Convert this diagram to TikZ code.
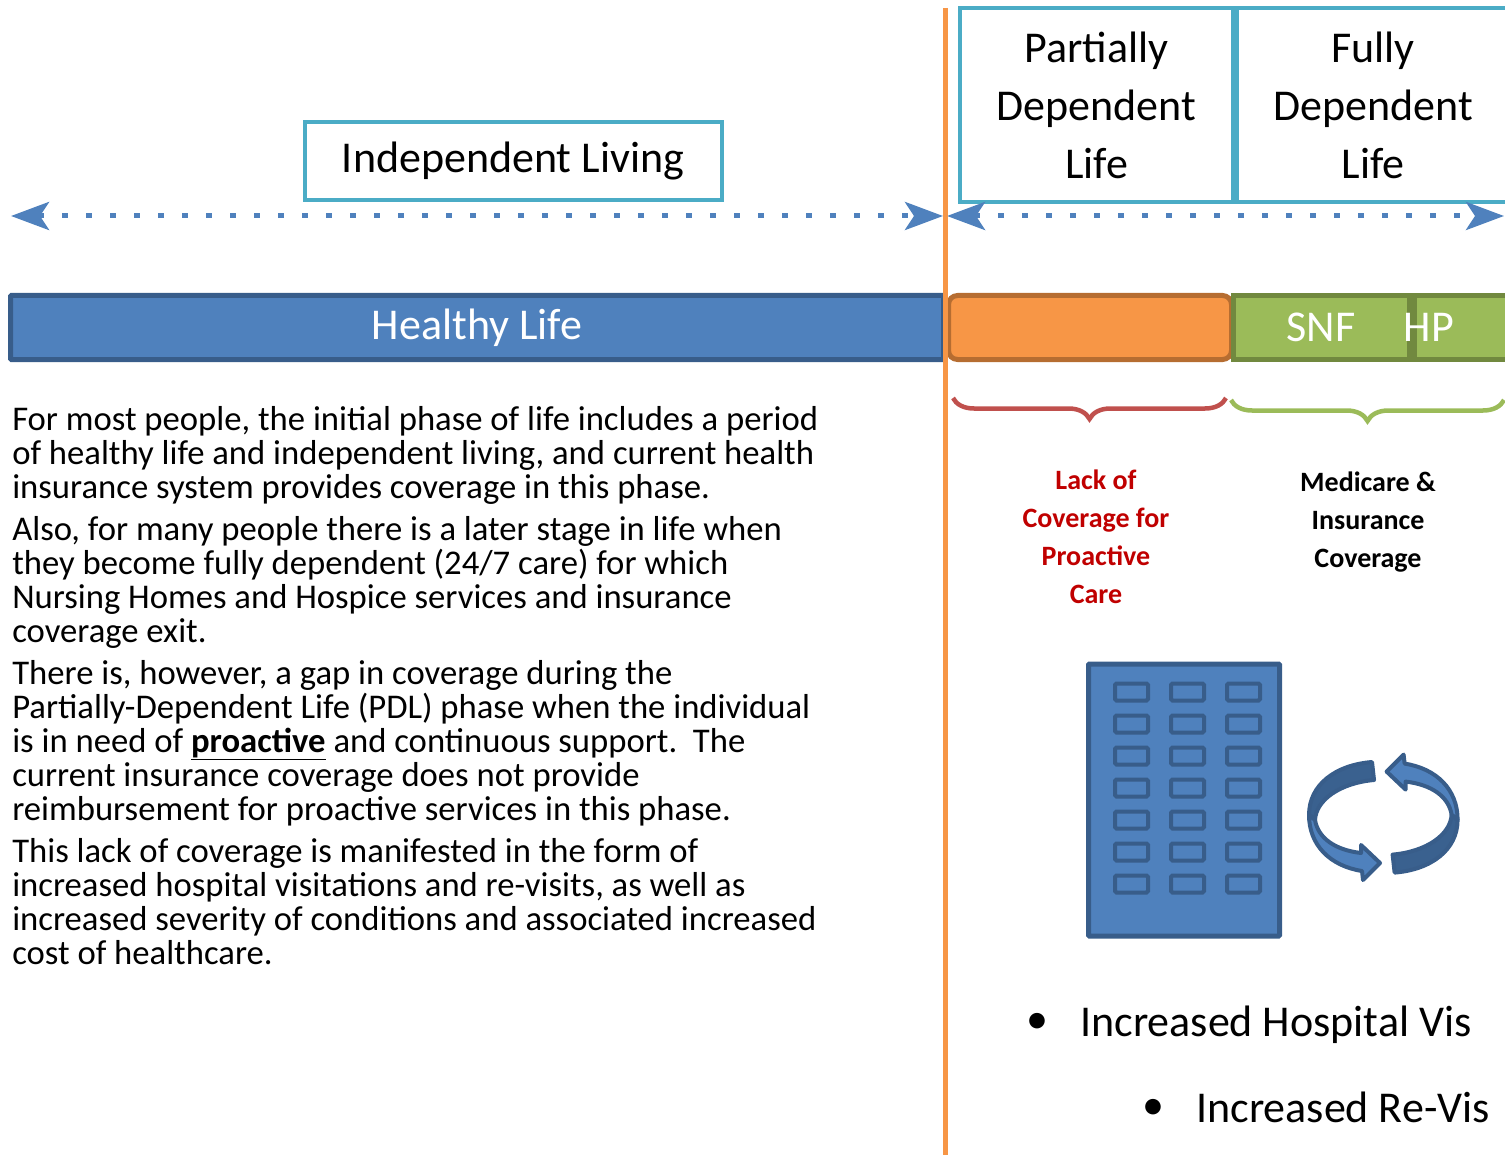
\documentclass[tikz,border=0pt]{standalone}
\usepackage{fontspec}
\setmainfont{Carlito}
\usetikzlibrary{positioning}
\usetikzlibrary{arrows.meta}
\usetikzlibrary{decorations.pathreplacing}
\def\px{0.75pt}
\definecolor{barblue}{HTML}{4F81BD}
\definecolor{darkblue}{HTML}{385D8A}
\definecolor{barorange}{HTML}{F79646}
\definecolor{darkorange}{HTML}{B66D31}
\definecolor{bargreen}{HTML}{9BBB59}
\definecolor{darkgreen}{HTML}{71893F}
\definecolor{boxteal}{HTML}{4BACC6}
\definecolor{bracered}{HTML}{C0504D}
\definecolor{labelred}{HTML}{C00000}
\tikzset{
	% boxes along the top
	stagebox/.style={draw=boxteal,line width=4*\px,inner sep=0pt,align=center,font=\fontsize{33}{43.5}\selectfont},
	% the bar
	barpart/.style={line width=5*\px,inner sep=0pt,minimum height=64*\px,text=white,font=\fontsize{33}{40}\selectfont},
	% dotted span
	spanline/.style={barblue,line width=5*\px,dash pattern=on 6*\px off 18*\px,{Stealth[length=38*\px,width=28*\px,inset=9*\px,sep=0pt]}-{Stealth[length=38*\px,width=28*\px,inset=9*\px,sep=0pt]}},
	% curly brackets
	bracket/.style={line width=4.5*\px,decorate,decoration={brace,mirror,amplitude=21*\px}},
	% texts
	bodytext/.style={inner sep=0pt,anchor=north west,align=left,font=\fontsize{26}{25.5}\selectfont},
	coverlabel/.style={inner sep=0pt,align=center,font=\fontsize{21}{28.5}\selectfont\bfseries},
	resulttext/.style={inner sep=0pt,anchor=base west,font=\fontsize{33}{40}\selectfont},
	% building
	windowbox/.style={draw=darkblue,line width=4*\px,rounded corners=1.5*\px,inner sep=0pt,minimum width=33*\px,minimum height=17*\px},
}
\begin{document}
\begin{tikzpicture}[x=\px,y=-\px]
\useasboundingbox (0,0) rectangle (1505,1155);
\clip (0,0) rectangle (1505,1155);
% stage boxes
\node[stagebox,minimum width=417*\px,minimum height=78*\px] (independent) at (513,161.5) {Independent Living};
\node[stagebox,minimum width=273*\px,minimum height=194*\px] (partial) at (1096.5,105) {Partially\\Dependent\\Life};
\node[stagebox,minimum width=272*\px,minimum height=194*\px,right=0pt of partial] (full) {Fully\\Dependent\\Life};
% the two dotted spans
\coordinate (spanA left) at (11,216);
\coordinate (spanA right) at (943,216);
\coordinate (spanB left) at (947,216);
\coordinate (spanB right) at (1504,216);
\draw[spanline] (spanA left) -- (spanA right);
\draw[spanline] (spanB left) -- (spanB right);
% the bar
\node[barpart,draw=darkblue,fill=barblue,rounded corners=1*\px,minimum width=933*\px] (healthy) at (477,327.5) {Healthy Life};
\node[barpart,draw=darkorange,fill=barorange,rounded corners=9*\px,minimum width=283*\px] (gap) at (1090,327.5) {};
\node[barpart,draw=darkgreen,fill=bargreen,minimum width=176*\px] (snf) at (1321,327.5) {SNF};
\node[barpart,draw=darkgreen,fill=bargreen,minimum width=96*\px,right=0pt of snf] (hp) {\hspace*{-1.5em}HP};
% divider
\coordinate (divider top) at (945,8);
\coordinate (divider end) at (945,1155);
\draw[barorange,line width=5*\px] (divider top) -- (divider end);
% brackets
\coordinate (red a) at (953,398);
\coordinate (red b) at (1226,398);
\coordinate (green a) at (1231,400);
\coordinate (green b) at (1504,400);
\draw[bracered,bracket] (red a) -- (red b);
\draw[bargreen,bracket] (green a) -- (green b);
\node[coverlabel,text=labelred] (lack) at (1096,537) {Lack of\\Coverage for\\Proactive\\Care};
\node[coverlabel] (medicare) at (1368,522) {Medicare \&\\Insurance\\Coverage};
% body text
\node[bodytext] (para one) at (12,406) {For most people, the initial phase of life includes a period\\of healthy life and independent living, and current health\\insurance system provides coverage in this phase.};
\node[bodytext] (para two) at (12,516) {Also, for many people there is a later stage in life when\\they become fully dependent (24/7 care) for which\\Nursing Homes and Hospice services and insurance\\coverage exit.};
\node[bodytext] (para three) at (12,660) {There is, however, a gap in coverage during the\\Partially-Dependent Life (PDL) phase when the individual\\is in need of \underline{\textbf{proactive}} and continuous support.\ \ The\\current insurance coverage does not provide\\reimbursement for proactive services in this phase.};
\node[bodytext] (para four) at (12,838) {This lack of coverage is manifested in the form of\\increased hospital visitations and re-visits, as well as\\increased severity of conditions and associated increased\\cost of healthcare.};
% building
\node[draw=darkblue,fill=barblue,line width=5*\px,rounded corners=1*\px,inner sep=0pt,minimum width=191*\px,minimum height=272*\px] (building) at (1184,800) {};
\foreach \row in {0,...,6}
  \foreach \col in {0,1,2}
    \node[windowbox] (win \row\col) at (1131.5+56*\col,692+32*\row) {};
% cycle arrows
\foreach \a in {0,180} {
  \begin{scope}[rotate around={\a:(1383.3,817.3)},draw=darkblue,line width=4*\px,line join=round]
    \draw[fill=darkblue!90!barblue] (1372,762) .. controls (1335,765) and (1309,785) .. (1309,815) -- (1315,820) .. controls (1316,800) and (1340,783) .. (1374,780) -- cycle;
    \draw[fill=barblue] (1309,815) .. controls (1309,845) and (1330,866) .. (1362,871) -- (1363,880) -- (1380,863) -- (1361,845) -- (1361,853) .. controls (1335,850) and (1318,838) .. (1315,820) -- cycle;
  \end{scope}
}
% results
\node[resulttext] (bullet one) at (1026,1033) {•};
\node[resulttext] (result one) at (1080,1036) {Increased Hospital Vis};
\node[resulttext] (bullet two) at (1142,1119) {•};
\node[resulttext] (result two) at (1196,1122) {Increased Re-Vis};
\end{tikzpicture}
\end{document}
